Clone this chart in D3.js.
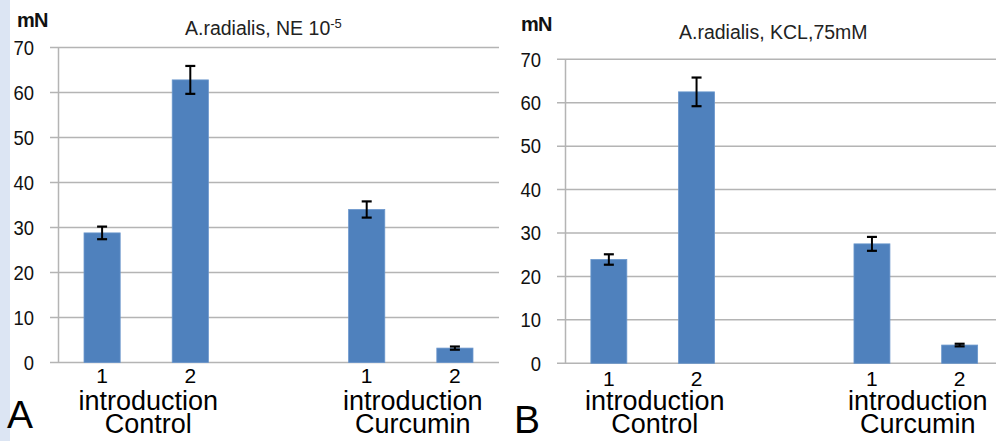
<!DOCTYPE html>
<html>
<head>
<meta charset="utf-8">
<script src="https://cdn.jsdelivr.net/npm/d3@7"></script>
<style>
  html, body { margin: 0; padding: 0; background: #ffffff; }
  svg { display: block; font-family: "Liberation Sans", Arial, sans-serif; }
  .tick text { transform-box: fill-box; transform-origin: 100% 50%; transform: scaleX(0.88); }
</style>
</head>
<body>
<svg id="chart" width="996" height="441"></svg>
<script>
// ---- data ----
const categories = ["1", "2", "", "1", "2"];
const groupLabels = [["introduction", "Control"], ["introduction", "Curcumin"]];
const groupSlots = [[0, 1], [3, 4]];
const yTicks = [0, 10, 20, 30, 40, 50, 60, 70];

const titleA = "A.radialis, NE 10";
const titleASup = "-5";
const valuesA = [28.8, 62.8, null, 34.0, 3.2];
const errorsA = [1.4, 3.1, null, 1.8, 0.35];

const titleB = "A.radialis, KCL,75mM";
const valuesB = [23.9, 62.5, null, 27.5, 4.2];
const errorsB = [1.2, 3.3, null, 1.6, 0.3];

const panelLetters = ["A", "B"];
const unitLabel = "mN";

// ---- drawing ----
const svg = d3.select("#chart");
svg.append("rect").attr("x", 0).attr("y", 0).attr("width", 10).attr("height", 441).attr("fill", "#dce5f3");

const gridColor = "#b4b4b4";
const barColor = "#4f81bd";

function panel(cfg) {
  const g = svg.append("g");
  const x = d3.scaleBand().domain(d3.range(categories.length))
    .range([cfg.left, cfg.right]).paddingInner(0.59).paddingOuter(0.295);
  const y = d3.scaleLinear().domain([0, 70]).range([cfg.bottom, cfg.top]);

  // gridlines
  g.selectAll("line.grid").data(yTicks).enter().append("line")
    .attr("x1", cfg.left - 8).attr("x2", cfg.gridEnd)
    .attr("y1", d => y(d)).attr("y2", d => y(d))
    .attr("stroke", gridColor).attr("stroke-width", 1.5);

  // axis with labels
  const axis = d3.axisLeft(y).tickValues(yTicks).tickSize(0).tickPadding(24);
  const ag = g.append("g").attr("transform", `translate(${cfg.left},0)`).call(axis);
  ag.select(".domain").attr("stroke", gridColor).attr("stroke-width", 1.5);
  ag.selectAll("text").attr("font-size", 21).attr("fill", "#111")
    .attr("font-family", "Liberation Sans, Arial, sans-serif");

  // bars
  const data = categories.map((c, i) => ({ i, c, v: cfg.values[i], e: cfg.errors[i] })).filter(d => d.v != null);
  g.selectAll("rect.bar").data(data).enter().append("rect")
    .attr("x", d => x(d.i)).attr("width", x.bandwidth())
    .attr("y", d => y(d.v)).attr("height", d => y(0) - y(d.v))
    .attr("fill", barColor).attr("stroke", "#6a96cc").attr("stroke-width", 0.8);

  // error bars
  const eg = g.selectAll("g.err").data(data).enter().append("g");
  eg.append("line")
    .attr("x1", d => x(d.i) + x.bandwidth() / 2).attr("x2", d => x(d.i) + x.bandwidth() / 2)
    .attr("y1", d => y(d.v + d.e)).attr("y2", d => y(d.v - d.e))
    .attr("stroke", "#000").attr("stroke-width", 2);
  [1, -1].forEach(s => {
    eg.append("line")
      .attr("x1", d => x(d.i) + x.bandwidth() / 2 - 5).attr("x2", d => x(d.i) + x.bandwidth() / 2 + 5)
      .attr("y1", d => y(d.v + s * d.e)).attr("y2", d => y(d.v + s * d.e))
      .attr("stroke", "#000").attr("stroke-width", 2.2);
  });

  // category labels
  g.selectAll("text.cat").data(categories.map((c, i) => ({ c, i })).filter(d => d.c !== "")).enter().append("text")
    .attr("x", d => x(d.i) + x.bandwidth() / 2).attr("y", cfg.catY)
    .attr("text-anchor", "middle").attr("font-size", 21).attr("fill", "#000").text(d => d.c);

  // group labels
  groupLabels.forEach((lines, gi) => {
    const [a, b] = groupSlots[gi];
    const cx = (x(a) + x(b) + x.bandwidth()) / 2 + 2;
    lines.forEach((t, li) => {
      g.append("text").attr("x", cx).attr("y", cfg.groupY + li * 22.5)
        .attr("text-anchor", "middle").attr("font-size", 27).attr("fill", "#000").text(t);
    });
  });

  // unit label
  g.append("text").attr("x", cfg.unitX).attr("y", cfg.unitY)
    .attr("font-size", 20).attr("font-weight", "bold").attr("letter-spacing", -0.8)
    .attr("fill", "#111").text(unitLabel);

  // title
  const tt = g.append("text").attr("x", cfg.titleX).attr("y", cfg.titleY)
    .attr("font-size", 19.5).attr("fill", "#222").text(cfg.title);
  if (cfg.sup) {
    tt.append("tspan").attr("dy", -7).attr("font-size", 13).text(cfg.sup);
  }

  // panel letter
  g.append("text").attr("x", cfg.letterX).attr("y", cfg.letterY)
    .attr("font-size", 39).attr("fill", "#000").text(cfg.letter);
}

panel({
  left: 58, right: 499, gridEnd: 499, top: 47.5, bottom: 362.5,
  values: valuesA, errors: errorsA, title: titleA, sup: titleASup,
  titleX: 185, titleY: 35, unitX: 17, unitY: 27,
  catY: 383, groupY: 410, letter: panelLetters[0], letterX: 7, letterY: 428
});
panel({
  left: 565, right: 1003.5, gridEnd: 996, top: 59.3, bottom: 363.3,
  values: valuesB, errors: errorsB, title: titleB, sup: null,
  titleX: 679, titleY: 39, unitX: 521, unitY: 31,
  catY: 386, groupY: 410, letter: panelLetters[1], letterX: 514, letterY: 433
});
</script>
</body>
</html>
